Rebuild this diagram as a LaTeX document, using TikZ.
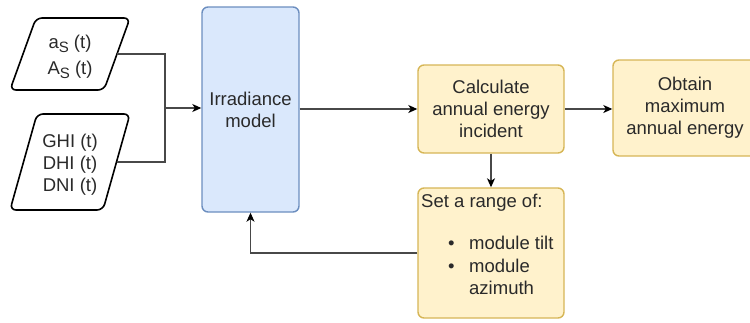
\documentclass[tikz,border=0pt]{standalone}
\usepackage{fontspec}
\setmainfont{Liberation Sans}
\usetikzlibrary{arrows.meta}

\definecolor{bluefill}{HTML}{DAE8FC}
\definecolor{bluedraw}{HTML}{6C8EBF}
\definecolor{yelfill}{HTML}{FFF2CC}
\definecolor{yeldraw}{HTML}{D6B656}
\definecolor{txt}{HTML}{2A2A2A}
\definecolor{wire}{HTML}{484848}

\begin{document}
\begin{tikzpicture}[x=1pt,y=-1pt,
  lbl/.style={font=\fontsize{18.5}{22}\selectfont, text=txt, align=center, inner sep=0pt},
  line/.style={font=\fontsize{18.5}{22}\selectfont, text=txt, inner sep=0pt, anchor=base west},
  yelbox/.style={draw=yeldraw, fill=yelfill, line width=1.4pt, rounded corners=6pt,
                 font=\fontsize{18.5}{22}\selectfont, text=txt, align=center},
  bluebox/.style={draw=bluedraw, fill=bluefill, line width=1.4pt, rounded corners=6pt,
                 font=\fontsize{18.5}{22}\selectfont, text=txt, align=center},
  datashape/.style={draw=black, line width=1.6pt, rounded corners=6pt, fill=white},
  wire/.style={draw=wire, line width=1.1pt},
  arr/.style={wire, -{Stealth[length=9pt,width=8pt,inset=2.5pt,color=black]}}
]
\clip (0,0) rectangle (750,322);

% input data parallelograms
\draw[datashape] (36,18) -- (130,18) -- (104,90) -- (10,90) -- cycle;
\coordinate (p1r) at (117,54);
\node[lbl] (p1) at (70,57) {a\raisebox{-4pt}{\fontsize{15}{15}\selectfont S} (t)\\[4pt]
                           A\raisebox{-4pt}{\fontsize{15}{15}\selectfont S} (t)};

\draw[datashape] (37,114) -- (130,114) -- (103,210) -- (10,210) -- cycle;
\coordinate (p2r) at (117,162);
\node[lbl] (p2) at (70,165) {GHI (t)\\DHI (t)\\DNI (t)};

% model and processing boxes
\node[bluebox, minimum width=97pt, minimum height=205pt] (irr) at (250.5,109.5) {Irradiance\\model};
\node[yelbox, minimum width=146pt, minimum height=88pt] (calc) at (491,109) {Calculate\\annual energy\\incident};
\node[yelbox, minimum width=144pt, minimum height=96pt] (obt) at (685,108) {Obtain\\maximum\\annual energy};
\node[yelbox, minimum width=146pt, minimum height=130pt] (range) at (491,253) {};

% list inside the range box
\node[line] (r0) at (421,207) {Set a range of:};
\node[line] (b1) at (448,249) {\textbullet};
\node[line] (r1) at (469,249) {module tilt};
\node[line] (b2) at (448,272) {\textbullet};
\node[line] (r2) at (469,272) {module};
\node[line] (r3) at (469,294) {azimuth};

% connectors
\coordinate (jn) at (165,108);
\draw[wire] (p1r) -| (jn);
\draw[wire] (p2r) -| (jn);
\draw[arr] (jn) -- (jn -| irr.west);
\draw[arr] (calc.west -| irr.east) -- (calc.west);
\draw[arr] (calc.east) -- (calc.east -| obt.west);
\draw[arr] (calc.south) -- (range.north);
\draw[arr] (range.west) -| (irr.south);
\end{tikzpicture}
\end{document}
